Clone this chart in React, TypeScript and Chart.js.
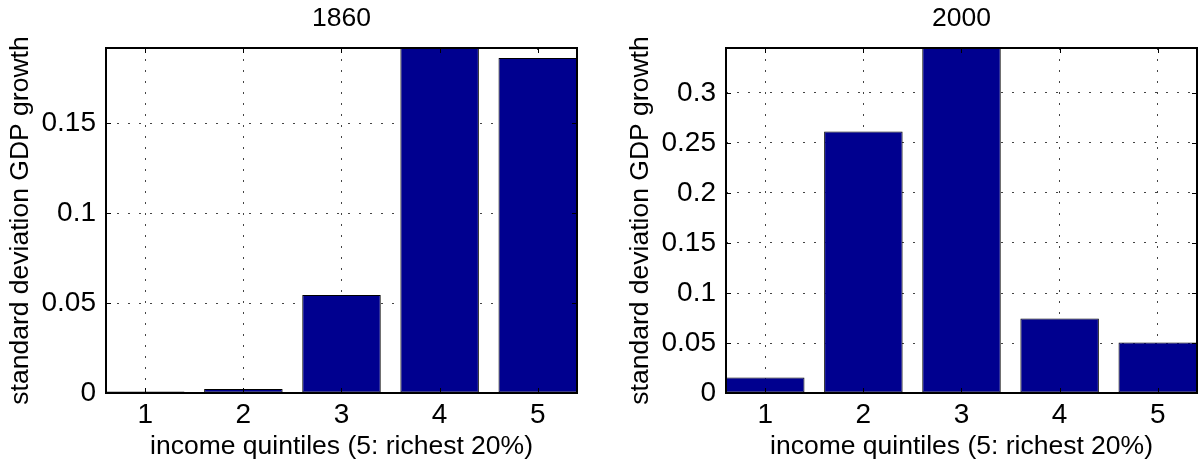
import React, { useEffect, useRef } from "react";
import { Chart, registerables } from "chart.js";

Chart.register(...registerables);

// ---- data ----
const quintiles = [1, 2, 3, 4, 5];
const sd1860 = [0.0009, 0.0022, 0.0544, 0.193, 0.1861];
const sd2000 = [0.0155, 0.2615, 0.35, 0.0745, 0.0505];
const yTicks1860 = [0, 0.05, 0.1, 0.15];
const yTicks2000 = [0, 0.05, 0.1, 0.15, 0.2, 0.25, 0.3];
const yMax1860 = 0.1917;
const yMax2000 = 0.345;
const xMin = 0.6;
const xMax = 5.4;
const panelTitles = ["1860", "2000"];
const xTitle = "income quintiles (5: richest 20%)";
const yTitle = "standard deviation GDP growth";

const FAMILY = "'Liberation Sans', Arial, Helvetica, sans-serif";
const tickFont = { family: FAMILY, size: 28 };
const titleFont = { family: FAMILY, size: 26.5 };

const fmt = (v: number) => String(Number(v.toFixed(4)));

const framePlugin = {
  id: "frame",
  afterDatasetsDraw(chart: any) {
    const { ctx, chartArea } = chart;
    const { left, right, top, bottom } = chartArea;
    const xs = chart.scales.x;
    const ys = chart.scales.y;
    ctx.save();
    ctx.strokeStyle = "#000";
    ctx.lineWidth = 1;
    ctx.beginPath();
    xs.ticks.forEach((t: any) => {
      const px = Math.round(xs.getPixelForValue(t.value)) + 0.5;
      ctx.moveTo(px, bottom);
      ctx.lineTo(px, bottom - 5);
      ctx.moveTo(px, top);
      ctx.lineTo(px, top + 5);
    });
    ys.ticks.forEach((t: any) => {
      const py = Math.round(ys.getPixelForValue(t.value)) + 0.5;
      ctx.moveTo(left, py);
      ctx.lineTo(left + 5, py);
      ctx.moveTo(right, py);
      ctx.lineTo(right - 5, py);
    });
    ctx.stroke();
    ctx.lineWidth = 2;
    ctx.strokeStyle = "#000";
    ctx.strokeRect(Math.round(left), Math.round(top), Math.round(right - left), Math.round(bottom - top));
    ctx.restore();
  },
};

function makeConfig(values: number[], yTicks: number[], yMax: number, title: string, padRight: number): any {
  return {
    type: "bar",
    data: {
      datasets: [
        {
          data: quintiles.map((q, i) => ({ x: q, y: values[i] })),
          backgroundColor: "#00008F",
          borderColor: "#000",
          borderWidth: 1,
          borderSkipped: false,
          barPercentage: 0.8,
          categoryPercentage: 1.0,
          xAxisID: "x",
          yAxisID: "y",
        },
      ],
    },
    options: {
      animation: false,
      responsive: false,
      devicePixelRatio: 1,
      layout: { padding: { left: 0, right: padRight, top: 0, bottom: 0 } },
      plugins: {
        legend: { display: false },
        tooltip: { enabled: false },
        title: { display: false },
      },
      scales: {
        x: {
          type: "linear",
          position: "bottom",
          min: xMin,
          max: xMax,
          offset: false,
          afterBuildTicks: (s: any) => {
            s.ticks = quintiles.map((v) => ({ value: v }));
          },
          afterFit: (s: any) => {
            s.height = 71;
          },
          grid: { color: "#444", lineWidth: 1, drawTicks: false, offset: false },
          border: { display: false, dash: [2, 9] },
          ticks: { padding: 5, font: tickFont, color: "#000", callback: (v: any) => fmt(Number(v)) },
          title: { display: true, text: xTitle, font: titleFont, color: "#000", padding: { top: 0, bottom: 1 } },
        },
        xTop: {
          type: "linear",
          position: "top",
          min: 0,
          max: 1,
          offset: false,
          grid: { display: false, drawTicks: false },
          border: { display: false },
          ticks: { display: false },
          title: { display: true, text: title, font: titleFont, color: "#000", padding: { top: 3, bottom: 0 } },
          afterFit: (s: any) => {
            s.height = 48;
          },
        },
        y: {
          type: "linear",
          position: "left",
          min: 0,
          max: yMax,
          afterBuildTicks: (s: any) => {
            s.ticks = yTicks.map((v) => ({ value: v }));
          },
          afterFit: (s: any) => {
            s.width = 106;
          },
          grid: { color: "#444", lineWidth: 1, drawTicks: false },
          border: { display: false, dash: [2, 9] },
          ticks: { padding: 10, font: tickFont, color: "#000", callback: (v: any) => fmt(Number(v)) },
          title: { display: true, text: yTitle, font: titleFont, color: "#000", padding: { top: 5, bottom: 0 } },
        },
      },
    },
    plugins: [framePlugin],
  };
}

function Panel(props: { values: number[]; yTicks: number[]; yMax: number; title: string; left: number; width: number; padRight: number }) {
  const ref = useRef<HTMLCanvasElement | null>(null);
  useEffect(() => {
    if (!ref.current) return;
    const chart = new Chart(ref.current, makeConfig(props.values, props.yTicks, props.yMax, props.title, props.padRight));
    return () => chart.destroy();
  }, []);
  return (
    <div style={{ position: "absolute", left: props.left, top: 0, width: props.width, height: 464 }}>
      <canvas ref={ref} width={props.width} height={464} style={{ width: props.width, height: 464, display: "block" }} />
    </div>
  );
}

export default function App() {
  return (
    <div style={{ position: "absolute", left: 0, top: 0, width: 1199, height: 464, background: "#fff" }}>
      <Panel values={sd1860} yTicks={yTicks1860} yMax={yMax1860} title={panelTitles[0]} left={0} width={600} padRight={23} />
      <Panel values={sd2000} yTicks={yTicks2000} yMax={yMax2000} title={panelTitles[1]} left={620} width={579} padRight={2} />
    </div>
  );
}
